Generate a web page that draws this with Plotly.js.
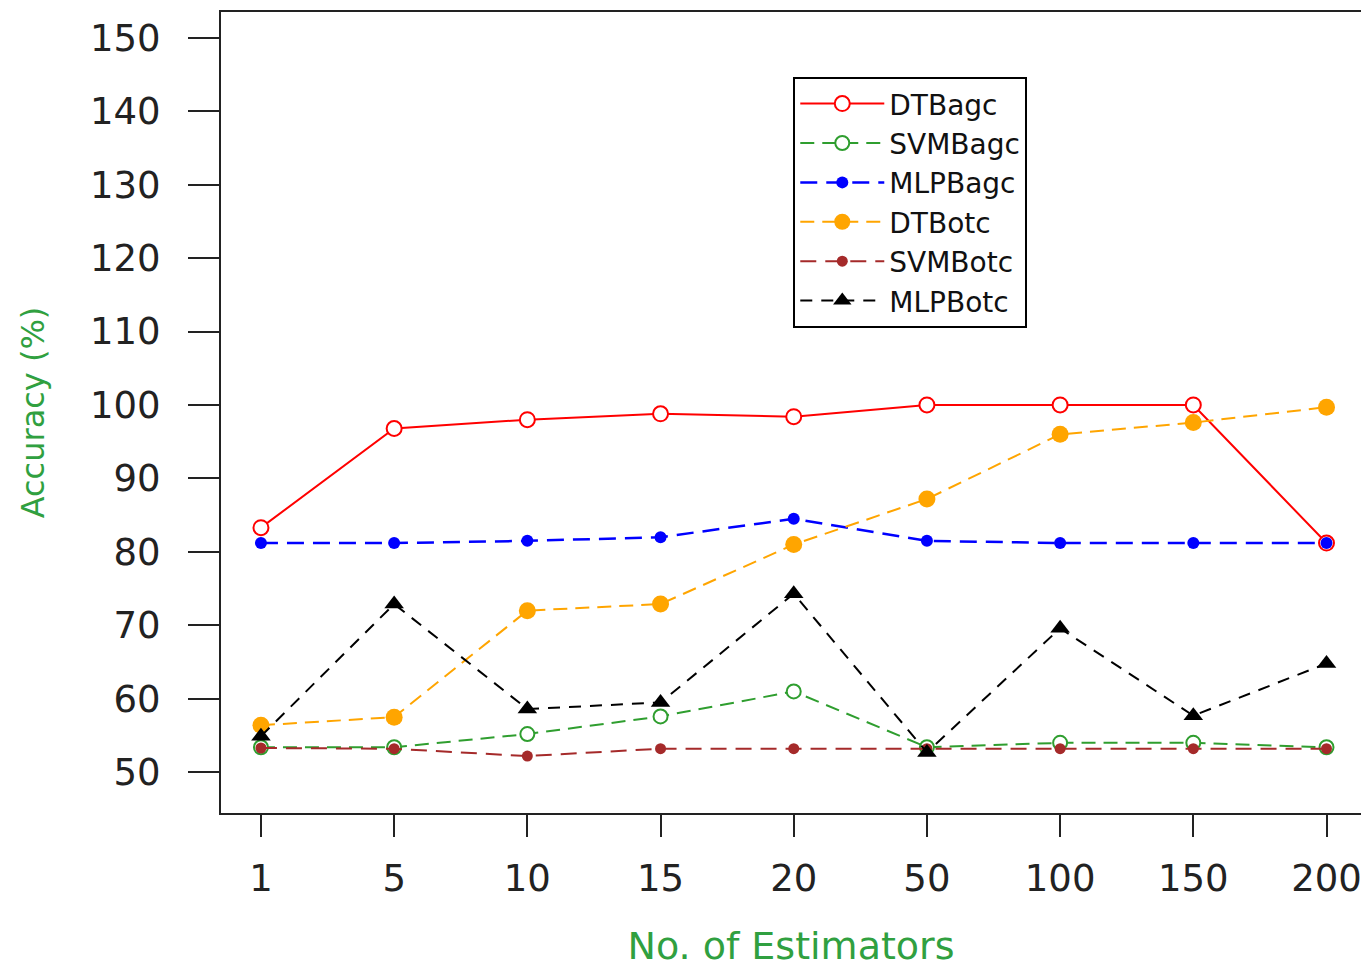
<!DOCTYPE html>
<html>
<head>
<meta charset="utf-8">
<script src="https://cdn.plot.ly/plotly-3.0.1.min.js"></script>
<style>html,body{margin:0;padding:0;background:#fff;overflow:hidden}#chart{width:1361px;height:968px}</style>
</head>
<body>
<div id="chart"></div>
<script>
const estimators = ["1","5","10","15","20","50","100","150","200"];
const DTBagc  = [83.3, 96.8, 98.0, 98.8, 98.4, 100, 100, 100, 81.2];
const SVMBagc = [53.4, 53.4, 55.2, 57.6, 61.0, 53.4, 54.0, 54.0, 53.4];
const MLPBagc = [81.2, 81.2, 81.5, 82.0, 84.5, 81.5, 81.2, 81.2, 81.2];
const DTBotc  = [56.4, 57.5, 72.0, 72.9, 81.0, 87.2, 96.0, 97.6, 99.7];
const SVMBotc = [53.3, 53.2, 52.2, 53.2, 53.2, 53.2, 53.2, 53.2, 53.2];
const MLPBotc = [54.9, 72.9, 58.6, 59.5, 74.3, 52.7, 69.6, 57.7, 64.8];

const font = "DejaVu Sans, Liberation Sans, Arial, sans-serif";
function tr(name, y, color, dash, marker, width) {
  return {x: estimators, y: y, name: name, type: "scatter", mode: "lines+markers",
    line: {color: color, dash: dash, width: width || 2}, marker: marker};
}
const traces = [
  tr("DTBagc", DTBagc, "#ff0000", "solid", {symbol: "circle", size: 15, color: "#ffffff", line: {color: "#ff0000", width: 2}}),
  tr("SVMBagc", SVMBagc, "#2f9e2f", "14px,8px", {symbol: "circle", size: 14, color: "#ffffff", line: {color: "#2f9e2f", width: 2}}),
  tr("MLPBagc", MLPBagc, "#0000ff", "17px,9px", {symbol: "circle", size: 12, color: "#0000ff"}, 2.5),
  tr("DTBotc", DTBotc, "#ffa500", "14px,8px", {symbol: "circle", size: 17, color: "#ffa500"}),
  tr("SVMBotc", SVMBotc, "#a52a2a", "16px,9px", {symbol: "circle", size: 11, color: "#a52a2a"}),
  tr("MLPBotc", MLPBotc, "#000000", "12px,9px", {symbol: "triangle-up", size: 17, color: "#000000"})
];
const layout = {
  width: 1361, height: 968,
  margin: {l: 221, r: 0, t: 12, b: 155, pad: 0},
  paper_bgcolor: "#ffffff", plot_bgcolor: "#ffffff",
  font: {family: font, color: "#222222"},
  showlegend: true,
  legend: {x: 0.502, y: 0.919, xanchor: "left", yanchor: "top",
    bordercolor: "#000000", borderwidth: 2, bgcolor: "#ffffff",
    font: {family: font, size: 28, color: "#111111"}, itemwidth: 84, tracegroupgap: 0},
  xaxis: {type: "category", range: [-0.300, 8.259], showgrid: false, zeroline: false,
    showline: true, linecolor: "#222222", linewidth: 2, mirror: true,
    ticks: "outside", ticklen: 22, tickwidth: 2, tickcolor: "#222222",
    tickfont: {family: font, size: 37, color: "#222222"}, ticklabelstandoff: 10,
    title: {text: "No. of Estimators", font: {family: font, size: 38, color: "#30a040"}, standoff: 34}},
  yaxis: {range: [44.45, 153.5], tickvals: [50,60,70,80,90,100,110,120,130,140,150],
    showgrid: false, zeroline: false, showline: true, linecolor: "#222222", linewidth: 2,
    ticks: "outside", ticklen: 31, tickwidth: 2, tickcolor: "#222222",
    tickfont: {family: font, size: 37, color: "#222222"}, ticklabelstandoff: 20,
    title: {text: "Accuracy (%)", font: {family: font, size: 32, color: "#30a040"}, standoff: 36}}
};
Plotly.newPlot("chart", traces, layout, {displayModeBar: false, staticPlot: true});
</script>
</body>
</html>
